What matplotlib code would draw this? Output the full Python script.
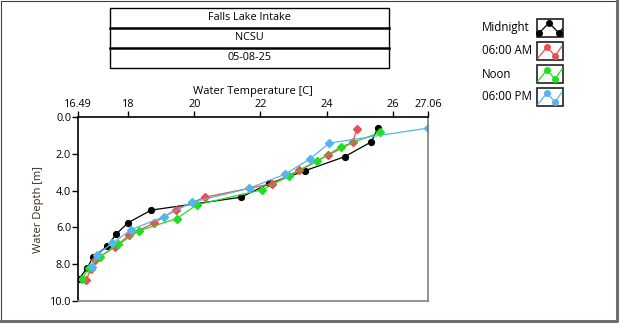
import matplotlib
matplotlib.use("Agg")
import matplotlib.pyplot as plt
from matplotlib.patches import Rectangle

plt.rcParams['font.family'] = ['Open Sans', 'DejaVu Sans']

# Depth [m] / temperature [C] profiles
midnight_depth = [0.58, 1.35, 2.16, 2.91, 3.61, 4.36, 5.06, 5.75, 6.37, 7.03, 7.63, 8.23, 8.81]
midnight_temp = [25.55, 25.35, 24.54, 23.36, 22.27, 21.41, 18.70, 18.00, 17.64, 17.37, 16.94, 16.76, 16.51]

am_depth = [0.63, 1.38, 2.07, 2.89, 3.63, 4.36, 5.03, 5.75, 6.41, 7.07, 7.78, 8.27, 8.87]
am_temp = [24.91, 24.79, 24.05, 23.17, 22.34, 20.32, 19.44, 18.80, 18.04, 17.60, 16.99, 16.87, 16.74]

noon_depth = [0.84, 1.62, 2.40, 3.22, 3.96, 4.77, 5.52, 6.19, 6.92, 7.59, 8.20, 8.81]
noon_temp = [25.62, 24.43, 23.71, 22.86, 22.04, 20.08, 19.47, 18.33, 17.71, 17.15, 16.82, 16.61]

pm_depth = [0.60, 1.42, 2.27, 3.11, 3.88, 4.63, 5.41, 6.12, 6.87, 7.50, 8.14]
pm_temp = [27.06, 24.08, 23.50, 22.74, 21.65, 19.94, 19.09, 18.10, 17.52, 17.05, 16.91]

series_names = ["Midnight", "06:00 AM", "Noon", "06:00 PM"]
series_colors = ["#000000", "#e8504f", "#22dd22", "#55b4ec"]
series_markers = ["o", "D", "D", "D"]

title_lines = ["Falls Lake Intake", "NCSU", "05-08-25"]
x_ticks = [16.49, 18, 20, 22, 24, 26, 27.06]
x_tick_labels = ["16.49", "18", "20", "22", "24", "26", "27.06"]
y_ticks = [0, 2, 4, 6, 8, 10]

W, H = 620, 324
fig = plt.figure(figsize=(W / 100, H / 100), dpi=100)

# background overlay in pixel coordinates
bg = fig.add_axes([0, 0, 1, 1])
bg.set_xlim(0, W)
bg.set_ylim(H, 0)
bg.axis("off")

# panel border (light top/left, dark bottom/right)
bg.plot([1, 1, 617], [321, 1, 1], color="#404040", lw=0.8)
bg.plot([617, 617, 1], [1, 321, 321], color="#6e6e6e", lw=2.2)

# title box
bg.add_patch(Rectangle((110, 8), 279, 60, fill=False, edgecolor="black", lw=1))
for yy in (28, 48):
    bg.plot([110, 389], [yy, yy], color="black", lw=1.8)
for i, t in enumerate(title_lines):
    bg.text(249.5, 18 + 20 * i, t, ha="center", va="center", fontsize=7.8)

# legend
for i, (name, col, mk) in enumerate(zip(series_names, series_colors, series_markers)):
    y0 = 19 + 23 * i
    bg.text(482, y0 + 9, name, ha="left", va="center", fontsize=8.3)
    bg.add_patch(Rectangle((537, y0), 26, 18, fill=False, edgecolor="#202020", lw=1.2))
    if i == 0:
        lx = [539, 549, 559, 562]
        ly = [y0 + 14, y0 + 4, y0 + 14, y0 + 10]
        mx, my = [539, 549, 559], [y0 + 14, y0 + 4, y0 + 14]
    else:
        lx = [538, 547, 555, 562]
        ly = [y0 + 16, y0 + 5, y0 + 14, y0 + 4]
        mx, my = [547, 555], [y0 + 5, y0 + 14]
    bg.plot(lx, ly, color=col, lw=0.9)
    bg.plot(mx, my, ls="none", marker="o", ms=4, color=col)

# main plot
ax = fig.add_axes([78 / W, 1 - 301 / H, 350 / W, 184 / H])
ax.plot(midnight_temp, midnight_depth, color=series_colors[0], marker="o", ms=4.2, lw=0.9)
ax.plot(am_temp, am_depth, color=series_colors[1], marker="D", ms=3.6, lw=0.9)
ax.plot(noon_temp, noon_depth, color=series_colors[2], marker="D", ms=3.6, lw=0.9)
ax.plot(pm_temp, pm_depth, color=series_colors[3], marker="D", ms=3.6, lw=0.9)

ax.set_xlim(16.49, 27.06)
ax.set_ylim(10, 0)
ax.xaxis.tick_top()
ax.xaxis.set_label_position("top")
ax.set_xticks(x_ticks)
ax.set_xticklabels(x_tick_labels)
ax.set_yticks(y_ticks)
ax.set_yticklabels([f"{v:.1f}" for v in y_ticks])
ax.tick_params(axis="both", labelsize=7.8, length=4, width=1, direction="out", pad=1)
ax.set_xlabel("Water Temperature [C]", fontsize=8, labelpad=4)
ax.set_ylabel("Water Depth [m]", fontsize=8, color="#3a2a1e", labelpad=4)

ax.spines["top"].set_color("black")
ax.spines["left"].set_color("black")
ax.spines["right"].set_color("#808080")
ax.spines["bottom"].set_color("#808080")
for s in ax.spines.values():
    s.set_linewidth(1.2)

fig.savefig("out.png", dpi=100)
